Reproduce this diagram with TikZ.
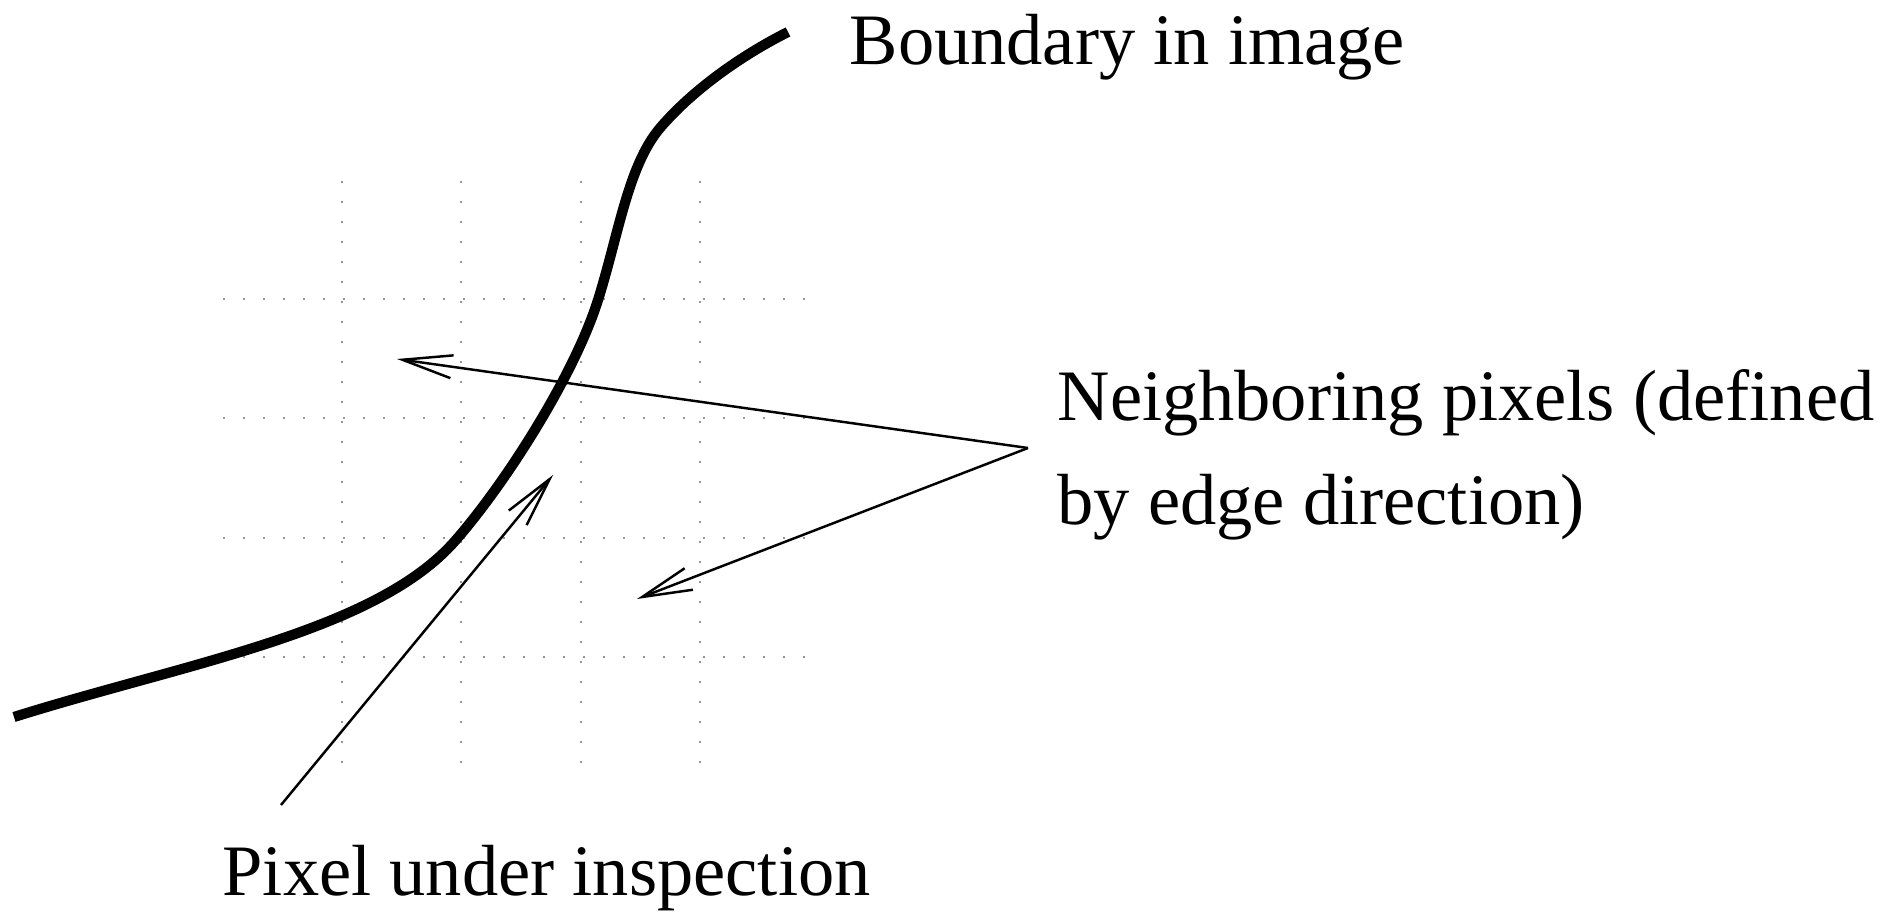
\documentclass[tikz,border=0pt]{standalone}
\usepackage{fontspec}
\setmainfont{Liberation Serif}
\usetikzlibrary{arrows.meta}
\definecolor{griddot}{RGB}{150,150,150}

\begin{document}
\begin{tikzpicture}[x=0.01cm,y=-0.01cm,
  lbl/.style={anchor=base west,inner sep=0pt,font=\fontsize{20.6}{29.8}\selectfont},
  ptr/.style={line width=0.7pt,-{Straight Barb[length=5mm,width=2.3mm]}}]
  \useasboundingbox (0,0) rectangle (1885,913);
  % dotted pixel grid
  \def\gs{119.3}  % pixel spacing
  \foreach \i in {0,...,3}{
    \draw[griddot,line width=0.6pt,dash pattern=on 0.6pt off 5.09pt]
      ({342+\i*\gs},181) -- ({342+\i*\gs},769);
    \draw[griddot,line width=0.6pt,dash pattern=on 0.6pt off 5.09pt]
      (223,{299+\i*\gs}) -- (812,{299+\i*\gs});
  }
  % the boundary curve
  \draw[line width=2.9pt] (14,717) .. controls (186,663) and (375,632) .. (455,541)
    .. controls (505,484) and (574,376) .. (598,300)
    .. controls (619,233) and (628,166) .. (660,128)
    .. controls (696,86) and (748,52) .. (788,32);

  % labels
  \node[lbl] (bnd) at (849,65) {Boundary in image};
  \node[lbl,align=left] (nbr) at (1057,525)
    {Neighboring pixels (defined\\by edge direction)};
  \node[lbl] (pix) at (222,895) {Pixel under inspection};

  % pointers
  \coordinate (src) at (1028,448);
  \coordinate (nbA) at (397,359);
  \coordinate (nbB) at (637,599);
  \coordinate (pixTail) at (281,805);
  \coordinate (pixTip) at (553,475);
  \draw[ptr] (src) -- (nbA);
  \draw[ptr] (src) -- (nbB);
  \draw[ptr] (pixTail) -- (pixTip);
\end{tikzpicture}
\end{document}
